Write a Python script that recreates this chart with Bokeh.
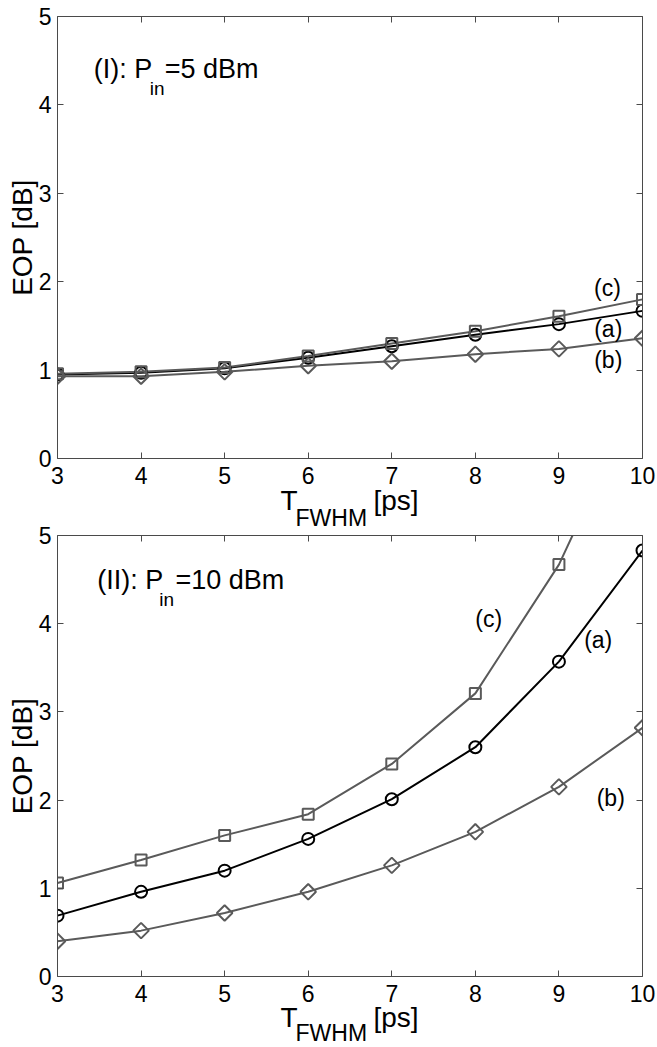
from math import pi
from bokeh.plotting import figure
from bokeh.models import LinearAxis, Label, FixedTicker, Range1d
from bokeh.layouts import column
from bokeh.embed import file_html
from bokeh.resources import INLINE

# ---------------- data ----------------
T_FWHM = [3, 4, 5, 6, 7, 8, 9, 10]
x_ticks = [3, 4, 5, 6, 7, 8, 9, 10]
y_ticks = [0, 1, 2, 3, 4, 5]

# Panel (I): P_in = 5 dBm
top_a = [0.95, 0.97, 1.02, 1.14, 1.27, 1.40, 1.52, 1.67]
top_b = [0.93, 0.93, 0.98, 1.05, 1.10, 1.18, 1.24, 1.36]
top_c = [0.96, 0.98, 1.03, 1.16, 1.30, 1.44, 1.61, 1.80]

# Panel (II): P_in = 10 dBm
bot_a = [0.69, 0.96, 1.20, 1.56, 2.01, 2.60, 3.57, 4.83]
bot_b = [0.40, 0.52, 0.72, 0.96, 1.26, 1.64, 2.15, 2.82]
bot_c = [1.06, 1.32, 1.60, 1.84, 2.41, 3.21, 4.67, 6.70]

FONT = "Liberation Sans"
GRAY = "#5a5a5a"
AXC = "#4a4a4a"

W = 656
BL, BR = 57, 14
BBOT = 34


def style_axis(ax, show):
    ax.axis_line_color = AXC
    ax.axis_line_width = 1
    ax.major_tick_line_color = AXC
    ax.major_tick_in = 6
    ax.major_tick_out = 0
    ax.minor_tick_line_color = None
    ax.major_label_text_font = FONT
    ax.major_label_text_color = "black"
    if show:
        ax.major_label_text_font_size = "23px"
    else:
        ax.major_label_text_font_size = "0px"
        ax.major_label_text_alpha = 0
        ax.major_label_standoff = 0


def mid_label(x, y, text, size, **kw):
    return Label(x=x, y=y, text=text, text_font=FONT, text_font_size=size,
                 text_baseline="middle", text_color="black", **kw)


def panel(a, b, c, btop, frame_h, tag, sub_off, rest_off, eq_text,
          title_x, title_y, sub_y, lab_pos, margin):
    height = btop + frame_h + BBOT
    p = figure(width=W, height=height, output_backend="svg", toolbar_location=None,
               x_range=Range1d(3, 10), y_range=Range1d(0, 5),
               min_border_left=BL, min_border_right=BR,
               min_border_top=btop, min_border_bottom=BBOT,
               x_axis_location=None, y_axis_location=None, margin=margin)
    p.outline_line_color = None
    p.background_fill_color = "white"
    p.border_fill_color = None
    p.xgrid.visible = False
    p.ygrid.visible = False

    for loc, show in (("below", True), ("above", False)):
        ax = LinearAxis(ticker=FixedTicker(ticks=x_ticks))
        style_axis(ax, show)
        if show:
            ax.major_label_standoff = 8
        p.add_layout(ax, loc)
    for loc, show in (("left", True), ("right", False)):
        ax = LinearAxis(ticker=FixedTicker(ticks=y_ticks))
        style_axis(ax, show)
        if show:
            ax.major_label_standoff = 6
            ax.axis_label = "EOP [dB]"
            ax.axis_label_text_font = FONT
            ax.axis_label_text_font_size = "28px"
            ax.axis_label_text_font_style = "normal"
            ax.axis_label_text_color = "black"
            ax.axis_label_standoff = -2
        p.add_layout(ax, loc)

    # series (a) black circles, (b) gray diamonds, (c) gray squares
    p.line(T_FWHM, a, line_color="black", line_width=2)
    p.line(T_FWHM, b, line_color=GRAY, line_width=2)
    p.line(T_FWHM, c, line_color=GRAY, line_width=2)
    p.scatter(T_FWHM, a, marker="circle", size=12, fill_color=None,
              line_color="black", line_width=2)
    p.scatter(T_FWHM, b, marker="square", angle=pi / 4, size=11, fill_color=None,
              line_color=GRAY, line_width=2)
    p.scatter(T_FWHM, c, marker="square", size=11, fill_color=None,
              line_color=GRAY, line_width=2)

    # curve labels
    for txt, (lx, ly) in lab_pos.items():
        p.add_layout(mid_label(lx, ly, txt, "23px", text_align="center"))

    # panel title with subscript
    p.add_layout(mid_label(title_x, title_y, tag, "27px", text_align="left"))
    p.add_layout(mid_label(title_x, sub_y, "in", "19px", text_align="left",
                           x_offset=sub_off))
    p.add_layout(mid_label(title_x, title_y, eq_text, "27px", text_align="left",
                           x_offset=rest_off))
    return p


def xlabel_fig(height, t_mid, sub_mid, margin):
    # transparent text strip under a panel: x in data units (frames are
    # aligned), y measured in pixels from the strip's top edge
    f = figure(width=W, height=height, output_backend="svg", toolbar_location=None,
               x_range=Range1d(3, 10), y_range=Range1d(0, height),
               min_border_left=BL, min_border_right=BR,
               min_border_top=0, min_border_bottom=0,
               x_axis_location=None, y_axis_location=None, margin=margin)
    f.outline_line_color = None
    f.xgrid.visible = False
    f.ygrid.visible = False
    f.border_fill_color = None
    f.background_fill_color = None
    f.add_layout(mid_label(5.668, height - t_mid, "T", "28px", text_align="left"))
    f.add_layout(mid_label(5.848, height - sub_mid, "FWHM", "23px", text_align="left"))
    f.add_layout(mid_label(6.781, height - t_mid, "[ps]", "28px", text_align="left"))
    return f


p1 = panel(top_a, top_b, top_c, btop=16, frame_h=442,
           tag="(I): P", sub_off=56, rest_off=71, eq_text="=5 dBm",
           title_x=3.434, title_y=4.41, sub_y=4.19,
           lab_pos={"(c)": (9.58, 1.93), "(a)": (9.59, 1.47), "(b)": (9.59, 1.11)},
           margin=(0, 0, 0, 0))
l1 = xlabel_fig(52, 18, 35, margin=(-10, 0, -8, 0))
p2 = panel(bot_a, bot_b, bot_c, btop=14, frame_h=441,
           tag="(II): P", sub_off=62, rest_off=78.3, eq_text="=10 dBm",
           title_x=3.475, title_y=4.50, sub_y=4.28,
           lab_pos={"(c)": (8.16, 4.05), "(a)": (9.47, 3.81), "(b)": (9.62, 2.02)},
           margin=(-5, 0, 0, 0))
l2 = xlabel_fig(46, 17.3, 32.5, margin=(-10, 0, 0, 0))

layout = column(p1, l1, p2, l2)
open("out.html", "w").write(file_html(layout, INLINE))
